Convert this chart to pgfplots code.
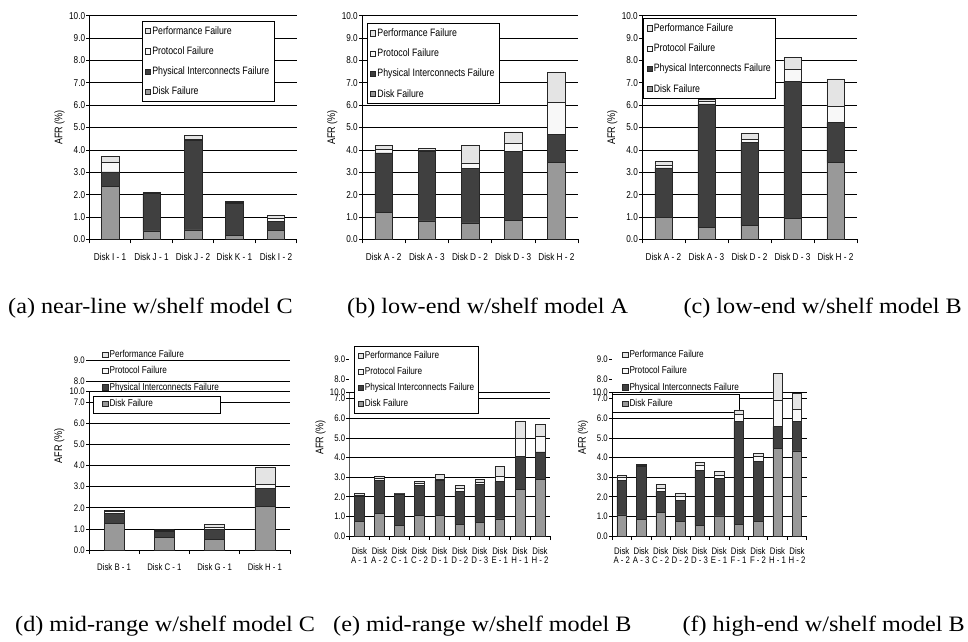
\documentclass[border=0pt]{standalone}
\usepackage{pgfplots}
\usepackage{pgfplotstable}
\pgfplotsset{compat=1.18}
\usepackage{fontspec}
\setmainfont{Liberation Serif}
\newfontfamily\chartfont[FakeStretch=0.82]{Liberation Sans}
\newfontfamily\capfont[FakeStretch=1.1]{Liberation Serif}

\definecolor{diskc}{HTML}{999999}
\definecolor{physc}{HTML}{404040}
\definecolor{protc}{HTML}{F8F8F8}
\definecolor{perfc}{HTML}{E4E4E4}

% (a) near-line w/shelf model C
\pgfplotstableread{
x disk phys prot perf
0 2.38 0.63 0.43 0.26
1 0.38 1.67 0.02 0.03
2 0.42 4.02 0.03 0.18
3 0.18 1.43 0.04 0.06
4 0.41 0.40 0.13 0.13
}\tabA
% (b) low-end w/shelf model A
\pgfplotstableread{
x disk phys prot perf
0 1.20 2.66 0.17 0.16
1 0.82 3.13 0.05 0.05
2 0.74 2.44 0.24 0.77
3 0.86 3.06 0.39 0.49
4 3.43 1.27 1.44 1.32
}\tabB
% (c) low-end w/shelf model B
\pgfplotstableread{
x disk phys prot perf
0 0.97 2.22 0.14 0.15
1 0.52 5.54 0.11 0.10
2 0.61 3.71 0.14 0.29
3 0.95 6.12 0.52 0.55
4 3.43 1.80 0.71 1.24
}\tabC
% (d) mid-range w/shelf model C
\pgfplotstableread{
x disk phys prot perf
0 1.26 0.48 0.08 0.07
1 0.60 0.27 0.03 0.05
2 0.51 0.47 0.10 0.15
3 2.05 0.87 0.19 0.82
}\tabD
% (e) mid-range w/shelf model B
\pgfplotstableread{
x disk phys prot perf
0 0.73 1.27 0.08 0.09
1 1.15 1.70 0.10 0.11
2 0.56 1.58 0.01 0.02
3 1.05 1.53 0.10 0.09
4 1.05 1.80 0.05 0.24
5 0.59 1.67 0.18 0.14
6 0.70 1.93 0.09 0.17
7 0.87 1.90 0.25 0.51
8 2.38 1.66 0.93 0.89
9 2.89 1.39 0.81 0.60
}\tabE
% (f) high-end w/shelf model B
\pgfplotstableread{
x disk phys prot perf
0 1.07 1.78 0.12 0.10
1 0.85 2.72 0.03 0.05
2 1.22 1.04 0.17 0.20
3 0.76 1.07 0.17 0.17
4 0.53 2.83 0.26 0.12
5 1.02 1.90 0.20 0.19
6 0.59 5.23 0.38 0.22
7 0.76 3.03 0.28 0.14
8 4.47 1.10 1.36 1.36
9 4.33 1.49 0.63 0.82
}\tabF

\pgfplotsset{
  lg/.style={legend image code/.code={\draw[##1,line width=0.5pt] (0pt,-2.6pt) rectangle (5.2pt,2.6pt);}},
  afr/.style={
    scale only axis, anchor=south west,
    ybar stacked, bar width=#1,
    axis x line*=bottom, axis y line*=left,
    axis line style={line width=0.7pt, black},
    ymin=0,
    tick align=outside,
    major tick length=3pt,
    minor tick length=4pt,
    major tick style={black, line width=0.6pt},
    minor tick style={black, line width=0.6pt},
    major x tick style={draw=none},
    ymajorgrids,
    grid style={black, line width=0.6pt},
    tick label style={font=\chartfont\fontsize{10}{10}\selectfont},
    yticklabel style={inner sep=1pt},
    ylabel={AFR (\%)},
    ylabel style={font=\chartfont\fontsize{11}{11}\selectfont},
    legend cell align=left, reverse legend,
    legend style={font=\chartfont\fontsize{10.7}{10.7}\selectfont, anchor=north west,
      draw=black, line width=0.6pt, fill=white, inner xsep=3pt, inner ysep=3pt,
      row sep=7pt, nodes={inner xsep=1.5pt}},
    every axis plot/.append style={draw=black!85, line width=0.5pt},
  },
  toprow/.style={
    ymax=10, xmin=-0.5, xmax=4.5, xtick={0,...,4}, minor xtick={-0.5,0.5,...,4.5},
    ytick={0,...,10}, yticklabels={0.0,1.0,2.0,3.0,4.0,5.0,6.0,7.0,8.0,9.0,10.0},
    width=#1, height=223.6pt,
    xticklabel style={yshift=-7pt},
  },
  botrow/.style={
    ymax=9, y axis line style={draw=none},
    tick label style={font=\chartfont\fontsize{9.5}{9}\selectfont},
    xticklabel style={align=center, yshift=-5pt},
    legend style={font=\chartfont\fontsize{10}{10}\selectfont, row sep=3.5pt},
  },
}

\newcommand\bars[1]{%
  \addplot[fill=diskc, lg] table[x=x,y=disk]{#1};
  \addplot[fill=physc, lg] table[x=x,y=phys]{#1};
  \addplot[fill=protc, lg] table[x=x,y=prot]{#1};
  \addplot[fill=perfc, lg] table[x=x,y=perf]{#1};
  \legend{Disk Failure, Physical Interconnects Failure, Protocol Failure, Performance Failure}%
}

\begin{document}
\begin{tikzpicture}[x=1pt,y=1pt]
\useasboundingbox (0,0) rectangle (968,641);

% (a)
\begin{axis}[afr=17.5pt, toprow=207.4pt, at={(89.3pt,401.7pt)},
  xticklabels={Disk I - 1, Disk J - 1, Disk J - 2, Disk K - 1, Disk I - 2},
  legend style={at={(0.253,0.976)}}]
\bars{\tabA}
\end{axis}

% (b)
\begin{axis}[afr=17.5pt, toprow=216pt, at={(362pt,401.7pt)},
  xticklabels={Disk A - 2, Disk A - 3, Disk D - 2, Disk D - 3, Disk H - 2},
  legend style={at={(0.023,0.966)}}]
\bars{\tabB}
\end{axis}

% (c)
\begin{axis}[afr=17.5pt, toprow=215pt, at={(642pt,401.7pt)},
  xticklabels={Disk A - 2, Disk A - 3, Disk D - 2, Disk D - 3, Disk H - 2},
  legend style={at={(0.006,0.988)}}]
\bars{\tabC}
\end{axis}

% (d)
\begin{axis}[afr=20pt, botrow, at={(89pt,91pt)}, width=201pt, height=190pt,
  xmin=-0.5, xmax=3.5, xtick={0,...,3}, minor xtick={-0.5,0.5,...,3.5},
  xticklabels={Disk B - 1, Disk C - 1, Disk G - 1, Disk H - 1},
  xticklabel style={yshift=-2pt},
  ytick={0,1,2,3,4,5,6,7,7.53,8,9},
  yticklabels={0.0,1.0,2.0,3.0,4.0,5.0,6.0,7.0,10.0,8.0,9.0},
  ylabel style={at={(axis description cs:-0.105,0.547)}, anchor=south},
  legend style={at={(0.05,1.079)}, draw=none, fill=none}]
\bars{\tabD}
\draw[line width=0.6pt, fill=white] (axis cs:-0.414,6.476) rectangle (axis cs:2.121,7.295);
\draw[line width=0.7pt] (axis cs:-0.5,0) -- (axis cs:-0.5,7.53);
\end{axis}

% (e)
\begin{axis}[afr=9.7pt, botrow, at={(349.3pt,105pt)}, width=200.7pt, height=176.7pt,
  xmin=-0.5, xmax=9.5, xtick={0,...,9}, minor xtick={-0.5,0.5,...,9.5},
  xticklabels={{Disk\\A - 1},{Disk\\A - 2},{Disk\\C - 1},{Disk\\C - 2},{Disk\\D - 1},{Disk\\D - 2},{Disk\\D - 3},{Disk\\E - 1},{Disk\\H - 1},{Disk\\H - 2}},
  ytick={0,1,2,3,4,5,6,7,7.34},
  yticklabels={0.0,1.0,2.0,3.0,4.0,5.0,6.0,7.0,10.0},
  extra y ticks={8,9}, extra y tick labels={8.0,9.0}, extra y tick style={grid=none},
  ylabel style={at={(axis description cs:-0.10,0.557)}, anchor=south},
  legend style={at={(0.025,1.077)}}]
\bars{\tabE}
\draw[line width=0.7pt] (axis cs:-0.5,0) -- (axis cs:-0.5,7.34);
\end{axis}

% (f)
\begin{axis}[afr=9.5pt, botrow, at={(612pt,105pt)}, width=194.7pt, height=176.7pt,
  xmin=-0.5, xmax=9.5, xtick={0,...,9}, minor xtick={-0.5,0.5,...,9.5},
  xticklabels={{Disk\\A - 2},{Disk\\A - 3},{Disk\\C - 2},{Disk\\D - 2},{Disk\\D - 3},{Disk\\E - 1},{Disk\\F - 1},{Disk\\F - 2},{Disk\\H - 1},{Disk\\H - 2}},
  ytick={0,1,2,3,4,5,6,7,7.34},
  yticklabels={0.0,1.0,2.0,3.0,4.0,5.0,6.0,7.0,10.0},
  extra y ticks={8,9}, extra y tick labels={8.0,9.0}, extra y tick style={grid=none},
  ylabel style={at={(axis description cs:-0.105,0.557)}, anchor=south},
  legend style={at={(0.036,1.081)}, draw=none, fill=none}]
\bars{\tabF}
\draw[line width=0.6pt, fill=white] (axis cs:-0.485,6.28) rectangle (axis cs:6.04,7.23);
\draw[line width=0.7pt] (axis cs:-0.5,0) -- (axis cs:-0.5,7.34);
\end{axis}

% captions
\begin{scope}[every node/.style={inner sep=0pt, font=\capfont\fontsize{22}{22}\selectfont}]
\node[anchor=base west] at (8,328) {(a) near-line w/shelf model C};
\node[anchor=base west] at (347,328) {(b) low-end w/shelf model A};
\node[anchor=base east] at (962,328) {(c) low-end w/shelf model B};
\node[anchor=base west] at (15,10) {(d) mid-range w/shelf model C};
\node[anchor=base west] at (333,10) {(e) mid-range w/shelf model B};
\node[anchor=base east] at (965,10) {(f) high-end w/shelf model B};
\end{scope}
\end{tikzpicture}
\end{document}
